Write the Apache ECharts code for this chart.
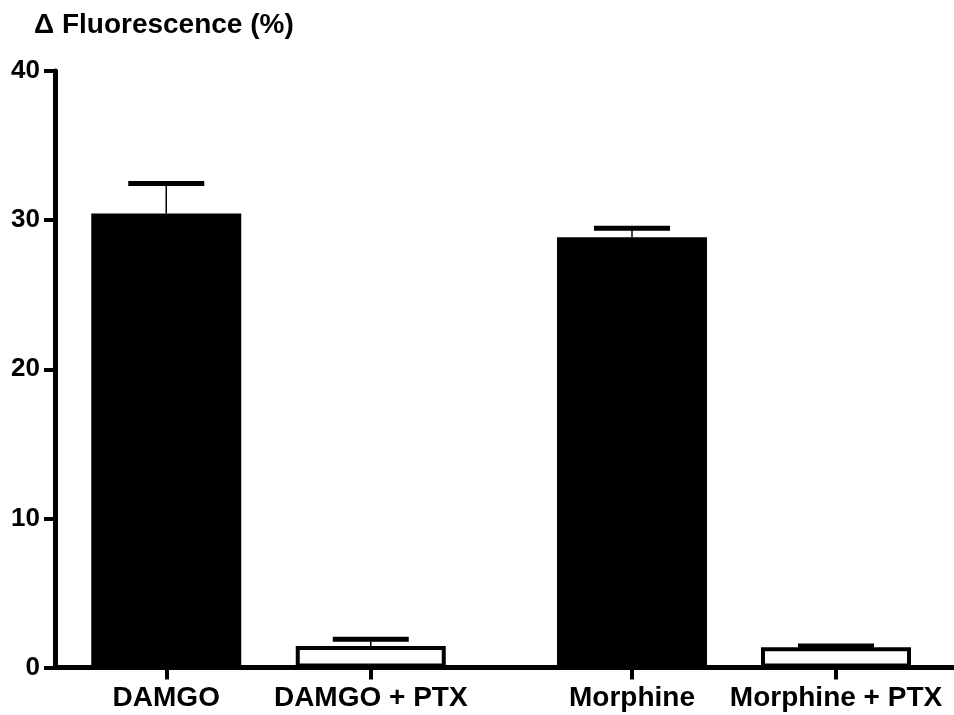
<!DOCTYPE html>
<html>
<head>
<meta charset="utf-8">
<script src="https://cdn.jsdelivr.net/npm/echarts@6/dist/echarts.min.js"></script>
<style>html,body{margin:0;padding:0;background:#fff}#c{width:954px;height:715px}</style>
</head>
<body>
<div id="c"></div>
<script>
// ---- data ----
var groupA = ['DAMGO', 'DAMGO + PTX'];
var groupB = ['Morphine', 'Morphine + PTX'];
var meanA = [30.45, 1.45];
var upperA = [32.45, 1.9];
var meanB = [28.85, 1.35];
var upperB = [29.45, 1.45];
var yTicks = [0, 10, 20, 30, 40];
var yTitle = 'Δ Fluorescence (%)';

var FONT = '"Liberation Sans", Arial, sans-serif';
var chart = echarts.init(document.getElementById('c'));

function barData(vals) {
  return vals.map(function (v, i) {
    return i === 0
      ? { value: v, itemStyle: { color: '#000', borderWidth: 0 } }
      : { value: v, itemStyle: { color: '#fff', borderColor: '#000', borderWidth: 4 } };
  });
}
function errData(means, uppers) {
  return means.map(function (m, i) { return [i, m, uppers[i]]; });
}
function errRender(params, api) {
  var x = api.value(0);
  var lo = api.coord([x, api.value(1)]);
  var hi = api.coord([x, api.value(2)]);
  var half = 38;
  return {
    type: 'group',
    children: [
      { type: 'line', shape: { x1: lo[0], y1: lo[1], x2: hi[0], y2: hi[1] }, style: { stroke: '#000', lineWidth: 1.5 } },
      { type: 'line', shape: { x1: hi[0] - half, y1: hi[1], x2: hi[0] + half, y2: hi[1] }, style: { stroke: '#000', lineWidth: 5 } }
    ]
  };
}

var gTop = 71, gBottom = 47.5;
var catAxis = function (idx, data) {
  return {
    type: 'category', gridIndex: idx, data: data, boundaryGap: true,
    axisLine: { show: false },
    axisTick: { show: true, alignWithLabel: true, length: 12, lineStyle: { color: '#000', width: 4 } },
    axisLabel: { color: '#000', fontFamily: FONT, fontWeight: 'bold', fontSize: 28, margin: 17, interval: 0 }
  };
};
var hiddenY = function (idx) {
  return { type: 'value', gridIndex: idx, min: yTicks[0], max: yTicks[yTicks.length - 1], show: false };
};

var option = {
  backgroundColor: '#fff',
  animation: false,
  title: {
    text: yTitle, left: 29, top: 6,
    textStyle: { color: '#000', fontFamily: FONT, fontWeight: 'bold', fontSize: 28 }
  },
  grid: [
    { left: 55, right: 0, top: gTop, bottom: gBottom },
    { left: 64, width: 409, top: gTop, bottom: gBottom },
    { left: 530, width: 408, top: gTop, bottom: gBottom }
  ],
  xAxis: [
    { type: 'value', gridIndex: 0, min: 0, max: 1,
      axisLine: { show: true, onZero: false, lineStyle: { color: '#000', width: 5 } },
      axisTick: { show: false }, axisLabel: { show: false }, splitLine: { show: false } },
    catAxis(1, groupA),
    catAxis(2, groupB)
  ],
  yAxis: [
    { type: 'value', gridIndex: 0, min: yTicks[0], max: yTicks[yTicks.length - 1], interval: 10,
      axisLine: { show: true, lineStyle: { color: '#000', width: 5 } },
      axisTick: { show: true, length: 11, lineStyle: { color: '#000', width: 4 } },
      axisLabel: { color: '#000', fontFamily: FONT, fontWeight: 'bold', fontSize: 26, margin: 15 },
      splitLine: { show: false } },
    hiddenY(1),
    hiddenY(2)
  ],
  series: [
    { type: 'custom', xAxisIndex: 1, yAxisIndex: 1, data: errData(meanA, upperA), renderItem: errRender, z: 1 },
    { type: 'custom', xAxisIndex: 2, yAxisIndex: 2, data: errData(meanB, upperB), renderItem: errRender, z: 1 },
    { type: 'bar', xAxisIndex: 1, yAxisIndex: 1, data: barData(meanA), barWidth: 150, z: 2 },
    { type: 'bar', xAxisIndex: 2, yAxisIndex: 2, data: barData(meanB), barWidth: 150, z: 2 }
  ]
};
chart.setOption(option);
</script>
</body>
</html>
